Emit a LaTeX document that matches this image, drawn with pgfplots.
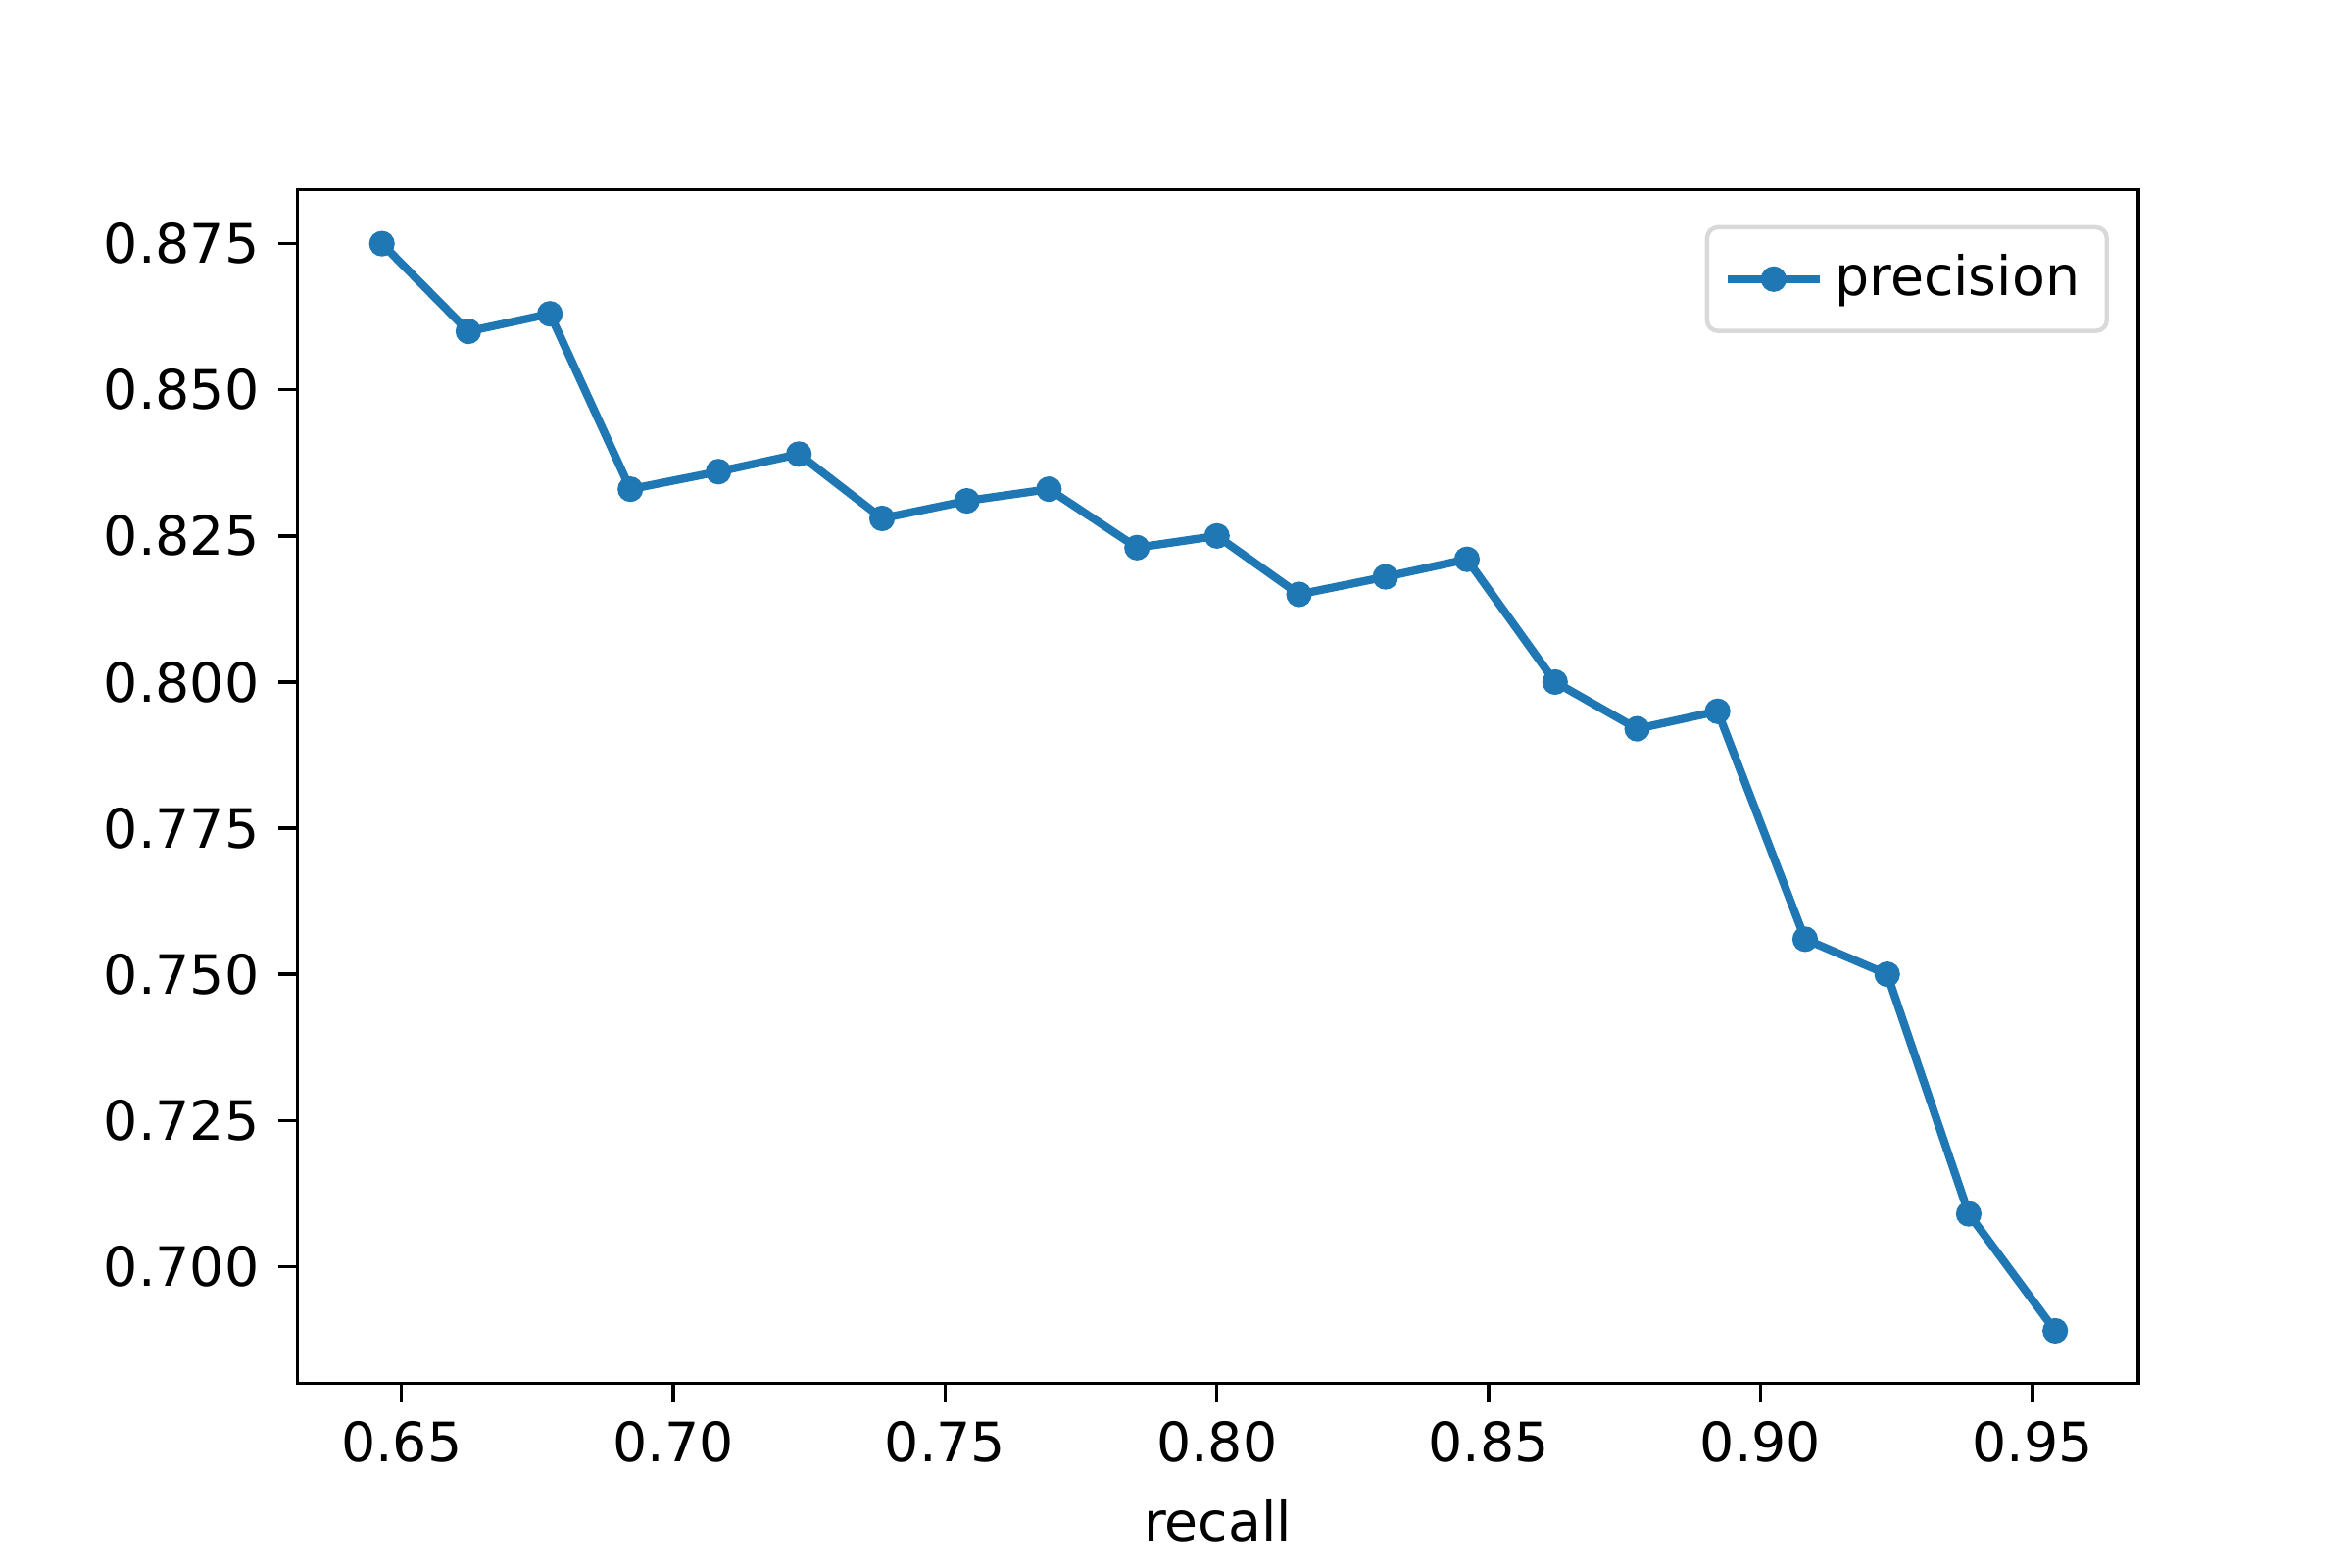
\documentclass[border=0pt]{standalone}
\usepackage{pgfplots}
\pgfplotsset{compat=1.18}
\usepackage{fontspec}
\setmainfont{DejaVu Sans}
\definecolor{mplblue}{HTML}{1F77B4}
\begin{document}
\begin{tikzpicture}
\useasboundingbox (-0.758in,-0.471in) rectangle (5.242in,3.529in);
\begin{axis}[
  at={(0,0)}, anchor=south west,
  scale only axis, width=4.697in, height=3.046in,
  xmin=0.6308, xmax=0.9695, ymin=0.680, ymax=0.8843,
  xtick={0.65,0.70,...,0.96}, ytick={0.700,0.725,...,0.876},
  xticklabel style={/pgf/number format/.cd,fixed,fixed zerofill,precision=2},
  yticklabel style={/pgf/number format/.cd,fixed,fixed zerofill,precision=3},
  /pgf/number format/assume math mode=true,
  tick align=outside, tick pos=left, major tick length=3.5pt,
  tick style={black, line width=0.6pt},
  axis line style={line width=0.6pt},
  font=\fontsize{10}{12}\selectfont,
  xlabel={recall},
  legend style={at={(0.984,0.97)}, anchor=north east, draw=black!15, rounded corners=2pt, line width=0.8pt, inner sep=3pt, font=\fontsize{10}{12}\selectfont},
  legend cell align=left,
]
\addplot[mplblue, line width=1.5pt, mark=*, mark size=1.6pt] coordinates {
(0.6464,0.875) (0.6623,0.860) (0.6773,0.863) (0.6921,0.833) (0.7083,0.836)
(0.7231,0.839) (0.7384,0.828) (0.7540,0.831) (0.7691,0.833) (0.7853,0.823)
(0.8000,0.825) (0.8151,0.815) (0.8310,0.818) (0.8460,0.821) (0.8622,0.800)
(0.8773,0.792) (0.8921,0.795) (0.9082,0.756) (0.9233,0.750) (0.9383,0.709)
(0.9542,0.689)};
\addlegendentry{precision}
\end{axis}
\end{tikzpicture}
\end{document}
